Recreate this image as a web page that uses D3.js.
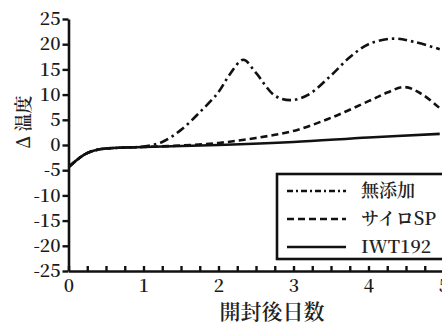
<!DOCTYPE html>
<html>
<head>
<meta charset="utf-8">
<script src="https://cdn.jsdelivr.net/npm/d3@7"></script>
<style>
  html, body { margin: 0; padding: 0; background: #fff; }
  svg { display: block; }
</style>
</head>
<body>
<svg id="chart" width="442" height="325"></svg>
<script>
// Series: temperature rise after opening (days vs Δ temperature)
const seriesNames = ["無添加", "サイロSP", "IWT192"];

const daysMutenka = [0, 0.1, 0.2, 0.3, 0.4, 0.5, 0.75, 1, 1.25, 1.5, 1.75, 2, 2.15, 2.33, 2.5, 2.75, 2.96, 3.2, 3.5, 3.75, 4, 4.33, 4.6, 4.95];
const valsMutenka = [-4.4, -3.1, -2.0, -1.3, -0.9, -0.7, -0.5, -0.3, 0.6, 3.0, 6.5, 10.5, 14.0, 16.9, 14.3, 9.8, 8.9, 10.0, 13.8, 17.4, 20.0, 21.1, 20.5, 19.0];

const daysSilo = [0, 0.1, 0.2, 0.3, 0.4, 0.5, 0.75, 1, 1.5, 2, 2.5, 3, 3.5, 4, 4.25, 4.48, 4.7, 4.95];
const valsSilo = [-4.4, -3.1, -2.0, -1.3, -0.9, -0.7, -0.5, -0.4, -0.1, 0.4, 1.4, 2.8, 5.4, 8.7, 10.4, 11.5, 10.2, 7.3];

const daysIwt = [0, 0.1, 0.2, 0.3, 0.4, 0.5, 0.75, 1, 2, 3, 4, 4.95];
const valsIwt = [-4.4, -3.1, -2.0, -1.3, -0.9, -0.7, -0.5, -0.4, 0.0, 0.6, 1.5, 2.2];

const xTicks = [0, 1, 2, 3, 4, 5];
const yTicks = [-25, -20, -15, -10, -5, 0, 5, 10, 15, 20, 25];

const svg = d3.select("#chart");
const x = d3.scaleLinear().domain([0, 5]).range([68.5, 443.5]);
const y = d3.scaleLinear().domain([-25, 25]).range([271, 19]);

const mincho = "'Noto Serif CJK JP'";
const fmt = d => (d < 0 ? "-" : "") + Math.abs(d);

// clip curves to plot area
svg.append("clipPath").attr("id", "plot")
  .append("rect").attr("x", 68).attr("y", 10).attr("width", 380).attr("height", 262);

const line = d3.line()
  .x(d => x(d[0])).y(d => y(d[1]))
  .curve(d3.curveCatmullRom.alpha(0.5));

const styles = [
  { dash: "9,4,2.5,4" },
  { dash: "7,4" },
  { dash: null }
];
const series = [
  d3.zip(daysMutenka, valsMutenka),
  d3.zip(daysSilo, valsSilo),
  d3.zip(daysIwt, valsIwt)
];

const g = svg.append("g").attr("clip-path", "url(#plot)");
series.forEach((s, i) => {
  g.append("path")
    .attr("d", line(s))
    .attr("fill", "none")
    .attr("stroke", "#111")
    .attr("stroke-width", 2.6)
    .attr("stroke-dasharray", styles[i].dash);
});

// y axis
const yAxis = svg.append("g")
  .attr("transform", `translate(${x(0)},0)`)
  .call(d3.axisLeft(y).tickValues(yTicks).tickFormat(fmt).tickSize(6).tickSizeOuter(0).tickPadding(2));
yAxis.attr("font-family", null).attr("font-size", null);
yAxis.select(".domain").attr("stroke-width", 2.6).attr("stroke", "#111");
yAxis.selectAll(".tick line").attr("stroke-width", 2.4).attr("stroke", "#111");
yAxis.selectAll(".tick text")
  .style("font-family", mincho).style("font-size", "18px").style("font-weight", "600")
  .attr("fill", "#1a1a1a");

// x axis: minor ticks every 0.25 day pointing inward
const minor = d3.range(0, 5.01, 0.25);
const xAxisMinor = svg.append("g")
  .attr("transform", `translate(0,${y(-25)})`)
  .call(d3.axisBottom(x).tickValues(minor).tickSize(-5).tickSizeOuter(0).tickFormat(""));
xAxisMinor.select(".domain").attr("stroke-width", 2.6).attr("stroke", "#111");
xAxisMinor.selectAll(".tick line").attr("stroke-width", 2.4).attr("stroke", "#111");

const xAxis = svg.append("g")
  .attr("transform", `translate(0,${y(-25)})`)
  .call(d3.axisBottom(x).tickValues(xTicks).tickFormat(fmt).tickSize(0).tickSizeOuter(0).tickPadding(8));
xAxis.attr("font-family", null).attr("font-size", null);
xAxis.select(".domain").remove();
xAxis.selectAll(".tick text")
  .style("font-family", mincho).style("font-size", "18px").style("font-weight", "600")
  .attr("fill", "#1a1a1a");

// axis titles
svg.append("text")
  .attr("transform", "translate(30,122) rotate(-90)")
  .attr("text-anchor", "middle")
  .style("font-family", mincho)
  .style("font-size", "18px")
  .style("font-weight", "600")
  .attr("fill", "#222")
  .text("Δ 温度");

svg.append("text")
  .attr("x", 272).attr("y", 319)
  .attr("text-anchor", "middle")
  .style("font-family", mincho)
  .style("font-size", "21px")
  .style("font-weight", "600")
  .attr("fill", "#222")
  .text("開封後日数");

// legend
const lg = svg.append("g");
lg.append("rect")
  .attr("x", 277).attr("y", 174).attr("width", 175).attr("height", 85)
  .attr("fill", "#fff").attr("stroke", "#111").attr("stroke-width", 2.6);
const legendY = [191, 219, 247];
seriesNames.forEach((name, i) => {
  lg.append("line")
    .attr("x1", 287).attr("x2", 346)
    .attr("y1", legendY[i]).attr("y2", legendY[i])
    .attr("stroke", "#111").attr("stroke-width", 2.6)
    .attr("stroke-dasharray", i === 0 ? "6,3,2,3" : styles[i].dash);
  lg.append("text")
    .attr("x", 361).attr("y", legendY[i] + 6)
    .style("font-family", mincho)
    .style("font-size", "18px")
    .style("font-weight", "600")
    .attr("fill", "#222")
    .text(name);
});
</script>
</body>
</html>
